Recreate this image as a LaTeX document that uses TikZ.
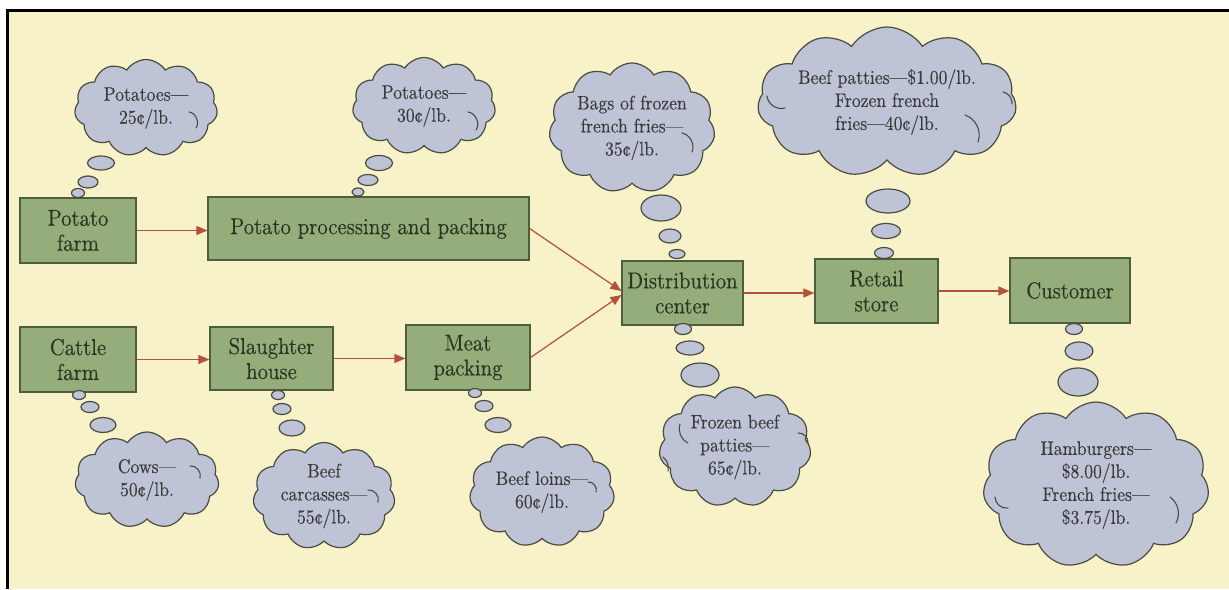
\documentclass[tikz,border=0pt]{standalone}
\usepackage{fontspec}
\newfontfamily\stagefont{lmroman10-regular.otf}[Ligatures=TeX,FakeStretch=0.9,FakeBold=0.3]
\newfontfamily\thoughtfont{lmroman10-regular.otf}[Ligatures=TeX,FakeStretch=0.9,FakeBold=0.2]
\usetikzlibrary{shapes.symbols,shapes.geometric,arrows.meta,calc}
\definecolor{bgyellow}{HTML}{F7F2C8}
\definecolor{boxfill}{HTML}{94AD7A}
\definecolor{boxline}{HTML}{4E5E3C}
\definecolor{cloudfill}{HTML}{BEC3D6}
\definecolor{cloudline}{HTML}{4A4C40}
\definecolor{arrowred}{HTML}{B5503A}
\definecolor{boxtext}{HTML}{2B3520}
\definecolor{cloudtext}{HTML}{3A3A38}
\tikzset{
  stagebox/.style={draw=boxline, fill=boxfill, line width=0.6pt, inner sep=0pt,
    align=center, text=boxtext, font=\stagefont\fontsize{11.5}{12.5}\selectfont},
  thought/.style={cloud, cloud puffs=11, cloud puff arc=115, cloud ignores aspect,
    draw=cloudline, fill=cloudfill, line width=0.6pt, inner sep=0pt, align=center,
    text=cloudtext, font=\thoughtfont\fontsize{9.8}{11.5}\selectfont},
  bubble/.style={ellipse, draw=cloudline, fill=cloudfill, line width=0.6pt, inner sep=0pt},
  curl/.style={draw=cloudline, line width=0.55pt, line cap=round},
  flow/.style={draw=arrowred, line width=0.6pt, -{Triangle[length=5.5pt,width=4.5pt]}}
}
\begin{document}
\begin{tikzpicture}[x=0.5pt,y=-0.5pt]
\useasboundingbox (0,0) rectangle (1229,589);
\fill[white] (0,0) rectangle (1229,589);
\fill[bgyellow] (7,10) rectangle (1229,589);
\draw[black, line width=1.5pt] (7,589) -- (7,10) -- (1229,10);

% stages
\node[stagebox, minimum width=58pt, minimum height=32.5pt] (pf) at (78,230.5) {Potato\\farm};
\node[stagebox, minimum width=160.5pt, minimum height=31.5pt] (pp) at (368.5,228.5) {Potato processing and packing};
\node[stagebox, minimum width=58pt, minimum height=32.5pt] (cf) at (78,359.5) {Cattle\\farm};
\node[stagebox, minimum width=61.5pt, minimum height=31.5pt] (sh) at (271.5,358.5) {Slaughter\\house};
\node[stagebox, minimum width=62pt, minimum height=32.5pt] (mp) at (468,357.5) {Meat\\packing};
\node[stagebox, minimum width=60.5pt, minimum height=32pt] (dc) at (682.5,293) {Distribution\\center};
\node[stagebox, minimum width=61.5pt, minimum height=32pt] (rs) at (876.5,291) {Retail\\store};
\node[stagebox, minimum width=60pt, minimum height=32.5pt] (cu) at (1070,290.5) {Customer};

% connectors
\draw[flow] (pf.east) -- (pf.east -| pp.west);
\draw[flow] (cf.east) -- (cf.east -| sh.west);
\draw[flow] (sh.east) -- (sh.east -| mp.west);
\draw[flow] (pp.east) -- ($(dc.west)+(0,-2)$);
\draw[flow] (mp.east) -- ($(dc.west)+(0,2)$);
\draw[flow] (dc.east) -- (dc.east -| rs.west);
\draw[flow] (rs.east) -- (rs.east -| cu.west);

% thought bubbles
\node[bubble, minimum width=13.5pt, minimum height=7pt] (a1) at (101,163) {};
\node[bubble, minimum width=10pt, minimum height=6pt] (a2) at (88,182) {};
\node[bubble, minimum width=6.5pt, minimum height=4.5pt] (a3) at (78,193) {};

\node[bubble, minimum width=13.5pt, minimum height=7.5pt] (b1) at (379,163) {};
\node[bubble, minimum width=10pt, minimum height=5.5pt] (b2) at (368,180) {};
\node[bubble, minimum width=6pt, minimum height=4pt] (b3) at (358,192) {};

\node[bubble, minimum width=20pt, minimum height=13pt] (c1) at (661,208) {};
\node[bubble, minimum width=11pt, minimum height=7pt] (c2) at (670,236) {};
\node[bubble, minimum width=8pt, minimum height=4.5pt] (c3) at (677,254) {};

\node[bubble, minimum width=22pt, minimum height=12pt] (d1) at (888,201) {};
\node[bubble, minimum width=14.5pt, minimum height=7.5pt] (d2) at (886,231) {};
\node[bubble, minimum width=9.5pt, minimum height=5.5pt] (d3) at (884,253) {};

\node[bubble, minimum width=6.5pt, minimum height=4.5pt] (e3) at (79,395) {};
\node[bubble, minimum width=9pt, minimum height=5.5pt] (e2) at (90,407) {};
\node[bubble, minimum width=13pt, minimum height=7.5pt] (e1) at (103,425) {};

\node[bubble, minimum width=6.5pt, minimum height=4.5pt] (f3) at (278,395) {};
\node[bubble, minimum width=9pt, minimum height=5.5pt] (f2) at (282,409) {};
\node[bubble, minimum width=13pt, minimum height=8pt] (f1) at (292,428) {};

\node[bubble, minimum width=6.5pt, minimum height=4.5pt] (g3) at (475,393) {};
\node[bubble, minimum width=9pt, minimum height=5.5pt] (g2) at (484,406) {};
\node[bubble, minimum width=13pt, minimum height=7.5pt] (g1) at (498,425) {};

\node[bubble, minimum width=8.5pt, minimum height=5.5pt] (h3) at (683,329) {};
\node[bubble, minimum width=14pt, minimum height=7pt] (h2) at (690,348) {};
\node[bubble, minimum width=19pt, minimum height=12pt] (h1) at (700,375) {};

\node[bubble, minimum width=8.5pt, minimum height=5.5pt] (i3) at (1074,329) {};
\node[bubble, minimum width=14pt, minimum height=9pt] (i2) at (1079,351) {};
\node[bubble, minimum width=20pt, minimum height=14pt] (i1) at (1078,382) {};

% clouds
\node[thought, minimum width=71.5pt, minimum height=48.5pt] (ca) at (146,108) {Potatoes—\\25¢/lb.};
\node[thought, minimum width=71.5pt, minimum height=48.5pt] (cb) at (424,106) {Potatoes—\\30¢/lb.};
\node[thought, minimum width=83pt, minimum height=65pt] (cc) at (632,128) {Bags of frozen\\french fries—\\35¢/lb.};
\node[thought, minimum width=129.5pt, minimum height=75pt] (cd) at (887,102) {Beef patties—\$1.00/lb.\\Frozen french\\fries—40¢/lb.};
\node[thought, minimum width=72pt, minimum height=48pt] (ce) at (147,480) {Cows—\\50¢/lb.};
\node[thought, minimum width=71pt, minimum height=53.5pt] (cg) at (324,496) {Beef\\carcasses—\\55¢/lb.};
\node[thought, minimum width=72.5pt, minimum height=55pt] (ch) at (542,492) {Beef loins—\\60¢/lb.};
\node[thought, minimum width=76pt, minimum height=60pt] (ci) at (735,447) {Frozen beef\\patties—\\65¢/lb.};
\node[thought, minimum width=113pt, minimum height=83pt] (cj) at (1096,485) {Hamburgers—\\\$8.00/lb.\\French fries—\\\$3.75/lb.};

% small curls inside the clouds
\draw[curl] (189,112) to[bend left=60] (196,128);
\draw[curl] (468,112) to[bend left=60] (476,130);
\draw[curl] (682,133) to[bend left=50] (692,152);
\draw[curl] (767,96) to[bend right=50] (785,108);
\draw[curl] (965,115) to[bend left=45] (978,142);
\draw[curl] (1003,92) to[bend left=40] (1012,104);
\draw[curl] (190,466) to[bend left=60] (200,478);
\draw[curl] (368,490) to[bend left=60] (378,502);
\draw[curl] (588,482) to[bend left=60] (596,492);
\draw[curl] (680,424) to[bend right=40] (688,443);
\draw[curl] (663,457) to[bend left=30] (668,471);
\draw[curl] (798,433) to[bend left=50] (808,443);
\draw[curl] (995,497) to[bend right=50] (1008,508);
\draw[curl] (1170,497) to[bend left=40] (1176,523);
\end{tikzpicture}
\end{document}
